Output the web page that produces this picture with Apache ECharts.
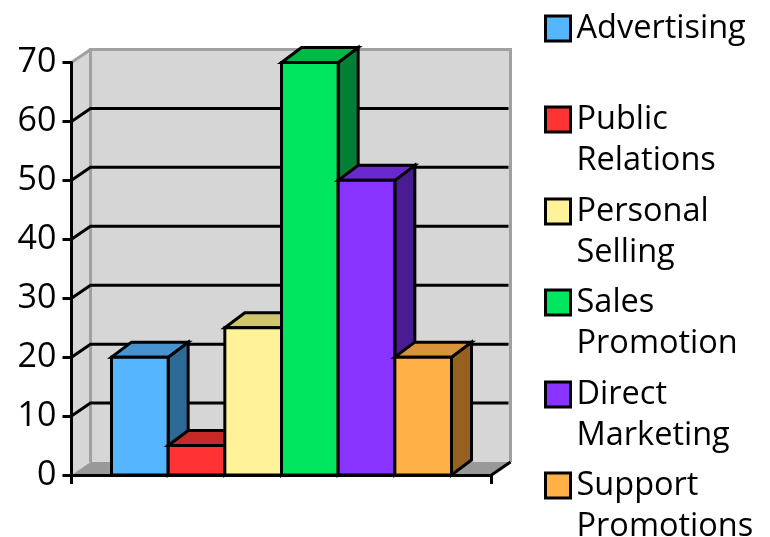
<!DOCTYPE html>
<html>
<head>
<meta charset="utf-8">
<style>html,body{margin:0;padding:0;background:#fff}#c{width:770px;height:537px}</style>
<script src="https://cdn.jsdelivr.net/npm/echarts@6/dist/echarts.min.js"></script>
</head>
<body>
<div id="c"></div>
<script>
// Promotion mix spending, one 3D-style column per channel
const category = ['Mix'];
const channels = ['Advertising', 'Public Relations', 'Personal Selling', 'Sales Promotion', 'Direct Marketing', 'Support Promotions'];
const legendLines = [['Advertising'], ['Public', 'Relations'], ['Personal', 'Selling'], ['Sales', 'Promotion'], ['Direct', 'Marketing'], ['Support', 'Promotions']];
const values = [20, 5, 25, 70, 50, 20];
const frontColors = ['#55b5ff', '#ff3333', '#fff299', '#00e65f', '#8833ff', '#ffb047'];
const topColors = ['#4793cf', '#c62a26', '#cfc46f', '#00b848', '#6a28cf', '#d9933a'];
const sideColors = ['#2d6a96', '#962020', '#968f50', '#007f35', '#4a1c91', '#966020'];
const yTicks = [0, 10, 20, 30, 40, 50, 60, 70];

const FONT = '"Open Sans"';
const LEGEND_FONT_SIZE = 32.5;
const AXIS_FONT_SIZE = 34;
const STROKE = 3;
const yMax = 70;
const wallDx = 19, wallDy = -13;   // offset of the back wall from the front plane
const barDx = 20, barDy = -15;     // depth of each column
const groupShare = 340 / 420;      // share of the band used by the columns
const black = '#000';

function poly(points, fill, stroke, lineWidth) {
  return {
    type: 'polygon',
    shape: { points },
    style: { fill, stroke: stroke || null, lineWidth: lineWidth || 0, lineJoin: 'miter' }
  };
}
function line(points, stroke, lineWidth) {
  return { type: 'polyline', shape: { points }, style: { fill: null, stroke, lineWidth } };
}

// Walls, floor and the gridlines that bend from the axis onto the back wall
function renderFrame(params, api) {
  const v = api.value(1);
  const band = api.size([1, 0])[0];
  const c0 = api.coord([0, 0]);
  const left = c0[0] - band / 2, right = c0[0] + band / 2;
  const base = c0[1], top = api.coord([0, yMax])[1];
  const y = api.coord([0, v])[1];
  const children = [];
  if (v === 0) {
    children.push(poly([[left + wallDx, top + wallDy], [right + wallDx, top + wallDy], [right + wallDx, base + wallDy], [left + wallDx, base + wallDy]], '#d6d6d6'));
    children.push(poly([[left, top], [left + wallDx, top + wallDy], [left + wallDx, base + wallDy], [left, base]], '#d6d6d6'));
    children.push(poly([[left, base], [left + wallDx, base + wallDy], [right + wallDx, base + wallDy], [right, base]], '#999999'));
    children.push(line([[left + wallDx, base + wallDy], [left + wallDx, top + wallDy], [right + wallDx, top + wallDy], [right + wallDx, base + wallDy]], '#a0a0a0', STROKE));
    children.push(line([[left, top], [left + wallDx, top + wallDy]], '#a0a0a0', STROKE));
    children.push(line([[right, base], [right + wallDx, base + wallDy]], black, STROKE));
  } else if (v < yMax) {
    children.push(line([[left, y], [left + wallDx, y + wallDy], [right + wallDx - 2, y + wallDy]], black, STROKE));
  }
  return { type: 'group', children };
}

function columnRenderer(i) {
  return function (params, api) {
    const band = api.size([1, 0])[0];
    const w = band * groupShare / channels.length;
    const c = api.coord([0, api.value(1)]);
    const base = api.coord([0, 0])[1];
    const x0 = c[0] - band * groupShare / 2 + i * w, x1 = x0 + w, y = c[1];
    return {
      type: 'group',
      children: [
        poly([[x1, y], [x1 + barDx, y + barDy], [x1 + barDx, base + barDy], [x1, base]], sideColors[i], black, STROKE),
        poly([[x0, y], [x0 + barDx, y + barDy], [x1 + barDx, y + barDy], [x1, y]], topColors[i], black, STROKE),
        poly([[x0, y], [x1, y], [x1, base], [x0, base]], frontColors[i], black, STROKE)
      ]
    };
  };
}

// Three lines per entry keep the swatch level with the first text line
function legendText(name) {
  const lines = legendLines[channels.indexOf(name)];
  return ['', lines[0], lines[1] || ''].join('\n');
}

const chart = echarts.init(document.getElementById('c'), null, { renderer: 'canvas' });
chart.setOption({
  animation: false,
  backgroundColor: '#fff',
  grid: { left: 71.5, right: 278.5, top: 62.5, bottom: 62 },
  xAxis: {
    type: 'category',
    data: category,
    z: 10,
    axisLine: { lineStyle: { color: black, width: STROKE } },
    axisTick: { show: true, length: 9, lineStyle: { color: black, width: STROKE } },
    axisLabel: { show: false }
  },
  yAxis: {
    type: 'value',
    min: 0,
    max: yMax,
    interval: 10,
    z: 10,
    axisLine: { show: true, lineStyle: { color: black, width: STROKE } },
    axisTick: { show: true, length: 9, lineStyle: { color: black, width: STROKE } },
    axisLabel: { color: black, fontFamily: FONT, fontSize: AXIS_FONT_SIZE, margin: 15 },
    splitLine: { show: false }
  },
  legend: channels.map((name, i) => ({
    data: [name],
    left: 539,
    top: [-39, 52, 144, 235, 327, 418][i],
    icon: 'rect',
    itemWidth: 25,
    itemHeight: 25,
    itemGap: 0,
    selectedMode: false,
    itemStyle: { borderColor: black, borderWidth: 3 },
    formatter: legendText,
    textStyle: { color: black, fontFamily: FONT, fontSize: LEGEND_FONT_SIZE, lineHeight: 41, padding: [2, 0, 0, 1] }
  })),
  series: [
    {
      type: 'custom',
      name: 'Frame',
      silent: true,
      clip: false,
      z: 1,
      renderItem: renderFrame,
      encode: { x: 0, y: 1 },
      data: yTicks.map(v => [0, v])
    }
  ].concat(channels.map((name, i) => ({
    type: 'custom',
    name,
    clip: false,
    z: 2,
    itemStyle: { color: frontColors[i] },
    renderItem: columnRenderer(i),
    encode: { x: 0, y: 1 },
    data: [[0, values[i]]]
  })))
});
</script>
</body>
</html>
